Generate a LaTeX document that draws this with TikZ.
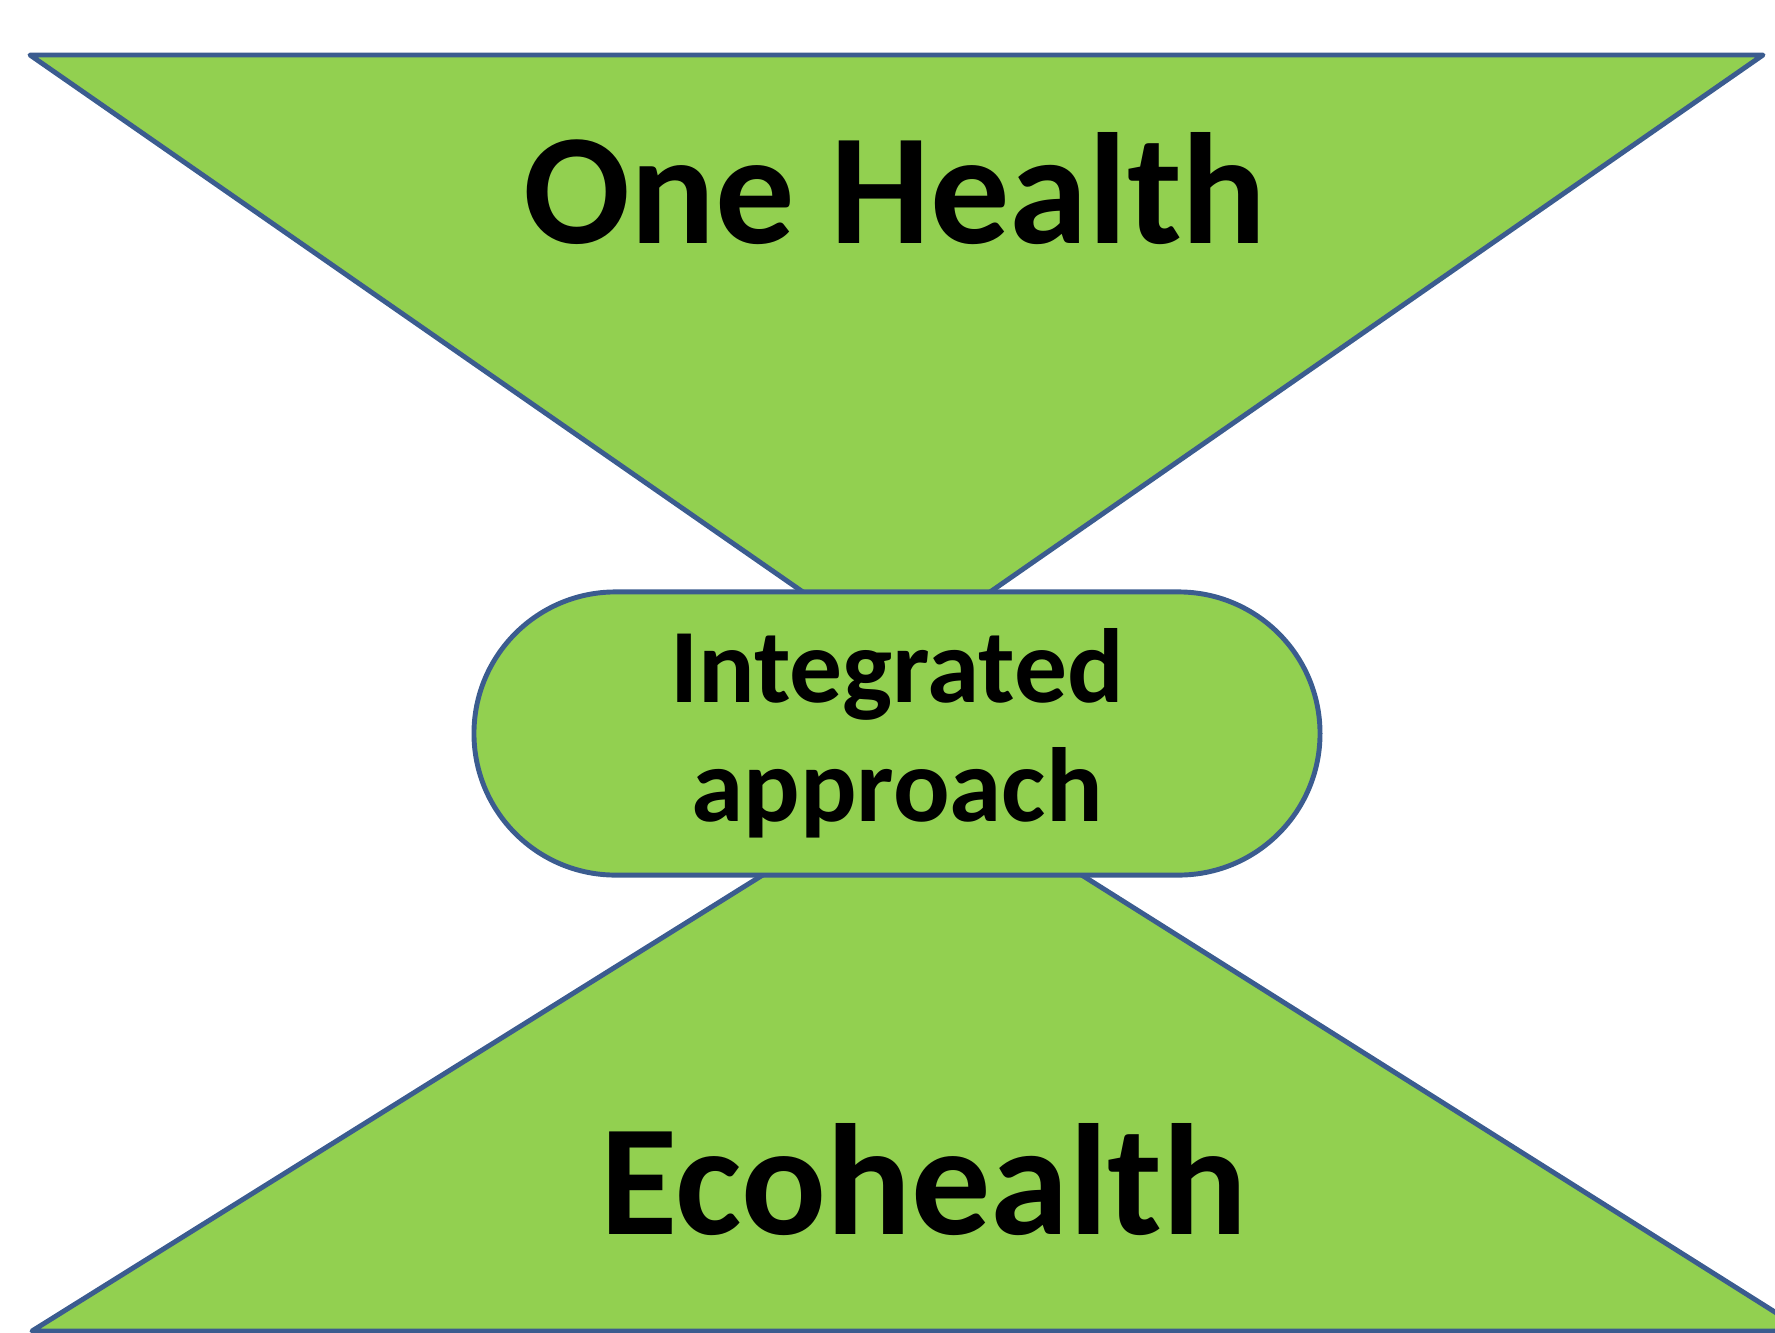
\documentclass[tikz,border=0pt]{standalone}
\usepackage{fontspec}
\setmainfont{Carlito}
\usetikzlibrary{shapes.misc}

\definecolor{leafgreen}{HTML}{92D050}
\definecolor{edgeblue}{HTML}{3B5C8F}

\begin{document}
\begin{tikzpicture}[x=0.01cm,y=-0.01cm]

        \useasboundingbox (0,0) rectangle (1775,1333);
        \clip (0,0) rectangle (1775,1333);

        \tikzset{funnel/.style={fill=leafgreen, draw=edgeblue, line width=1.4pt, line join=round}}

        % corners of the two triangles
        \coordinate (tl) at (30,55);
        \coordinate (tr) at (1763,55);
        \coordinate (ta) at (896.5,657);
        \coordinate (bl) at (32,1331);
        \coordinate (br) at (1805,1331);
        \coordinate (ba) at (923,775);

        \path[funnel] (tl) -- (tr) -- (ta) -- cycle;
        \path[funnel] (bl) -- (br) -- (ba) -- cycle;

        \begin{scope}[every node/.style={font=\bfseries\fontsize{45}{54}\selectfont, anchor=base}]
          \node (one) at (895,243)  {One Health};
          \node (eco) at (924,1234) {Ecohealth};
        \end{scope}

        \node[rounded rectangle, funnel, minimum width=8.69cm, minimum height=2.83cm,
              align=center, font=\bfseries\fontsize{30}{33.8}\selectfont]
          (mid) at (897,733.5) {Integrated\\approach};

\end{tikzpicture}
\end{document}
